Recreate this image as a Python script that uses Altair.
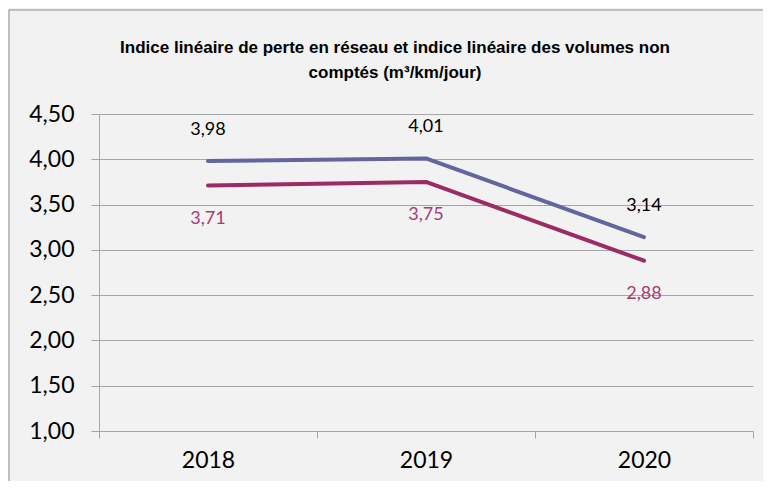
import altair as alt
import pandas as pd

years = ["2018", "2019", "2020"]
ilp = [3.98, 4.01, 3.14]   # blue series
ilvnc = [3.71, 3.75, 2.88]  # magenta series
y_ticks = [1.0, 1.5, 2.0, 2.5, 3.0, 3.5, 4.0, 4.5]

blue = "#64649e"
mag = "#9c2b63"
mag_lbl = "#a23e74"

df = pd.DataFrame({
    "year": years * 2,
    "value": ilp + ilvnc,
    "serie": ["ilp"] * 3 + ["ilvnc"] * 3,
})
df["label"] = df["value"].map(lambda v: f"{v:.2f}".replace(".", ","))

W, H = 654, 317
x = alt.X("year:N", sort=years, title=None,
          scale=alt.Scale(paddingInner=0, paddingOuter=0),
          axis=alt.Axis(labelAngle=0, labelFont="Lato", labelFontSize=23,
                        labelColor="#000000", labelPadding=11,
                        domainColor="#a6a6a6", tickColor="#a6a6a6",
                        tickBand="extent", tickSize=7, grid=False))
y = alt.Y("value:Q", title=None,
          scale=alt.Scale(domain=[1.0, 4.5], nice=False, zero=False),
          axis=alt.Axis(values=y_ticks, labelFont="Lato", labelFontSize=23,
                        labelColor="#000000", labelPadding=17,
                        labelExpr="replace(format(datum.value, '.2f'), '.', ',')",
                        domainColor="#a6a6a6", tickColor="#a6a6a6", tickSize=8,
                        gridColor="#a6a6a6", gridWidth=1))

base = alt.Chart(df)

lines = base.mark_line(strokeWidth=4, strokeCap="round", strokeJoin="round").encode(
    x=x, y=y,
    color=alt.Color("serie:N", scale=alt.Scale(domain=["ilp", "ilvnc"], range=[blue, mag]),
                    legend=None),
)

lbl_top = base.transform_filter(alt.datum.serie == "ilp").mark_text(
    font="Lato", fontSize=18, dy=-31, color="#000000").encode(
    x=alt.X("year:N", sort=years), y="value:Q", text="label:N")

lbl_bot = base.transform_filter(alt.datum.serie == "ilvnc").mark_text(
    font="Lato", fontSize=18, dy=33, color=mag_lbl).encode(
    x=alt.X("year:N", sort=years), y="value:Q", text="label:N")

frame = alt.Chart(pd.DataFrame({"a": [0]})).mark_rect(
    fill=None, stroke="#8c8c8c", strokeWidth=1, clip=False).encode(
    x=alt.value(-90), x2=alt.value(W + 20), y=alt.value(-104), y2=alt.value(H + 80))

chart = alt.layer(frame, lines, lbl_top, lbl_bot).properties(
    width=W, height=H,
    title=alt.TitleParams(
        text=["Indice linéaire de perte en réseau et indice linéaire des volumes non",
              "comptés (m³/km/jour)"],
        font="Liberation Sans", fontSize=17, fontWeight="bold", color="#000000",
        anchor="middle", frame="group", dx=-31, offset=-72, lineHeight=25),
    autosize=alt.AutoSizeParams(type="none"),
    padding={"left": 91, "top": 106, "right": 10, "bottom": 50},
    background="#f2f2f2",
).configure_view(stroke=None)

chart.save("out.html", embed_options={"renderer": "svg", "actions": False})
